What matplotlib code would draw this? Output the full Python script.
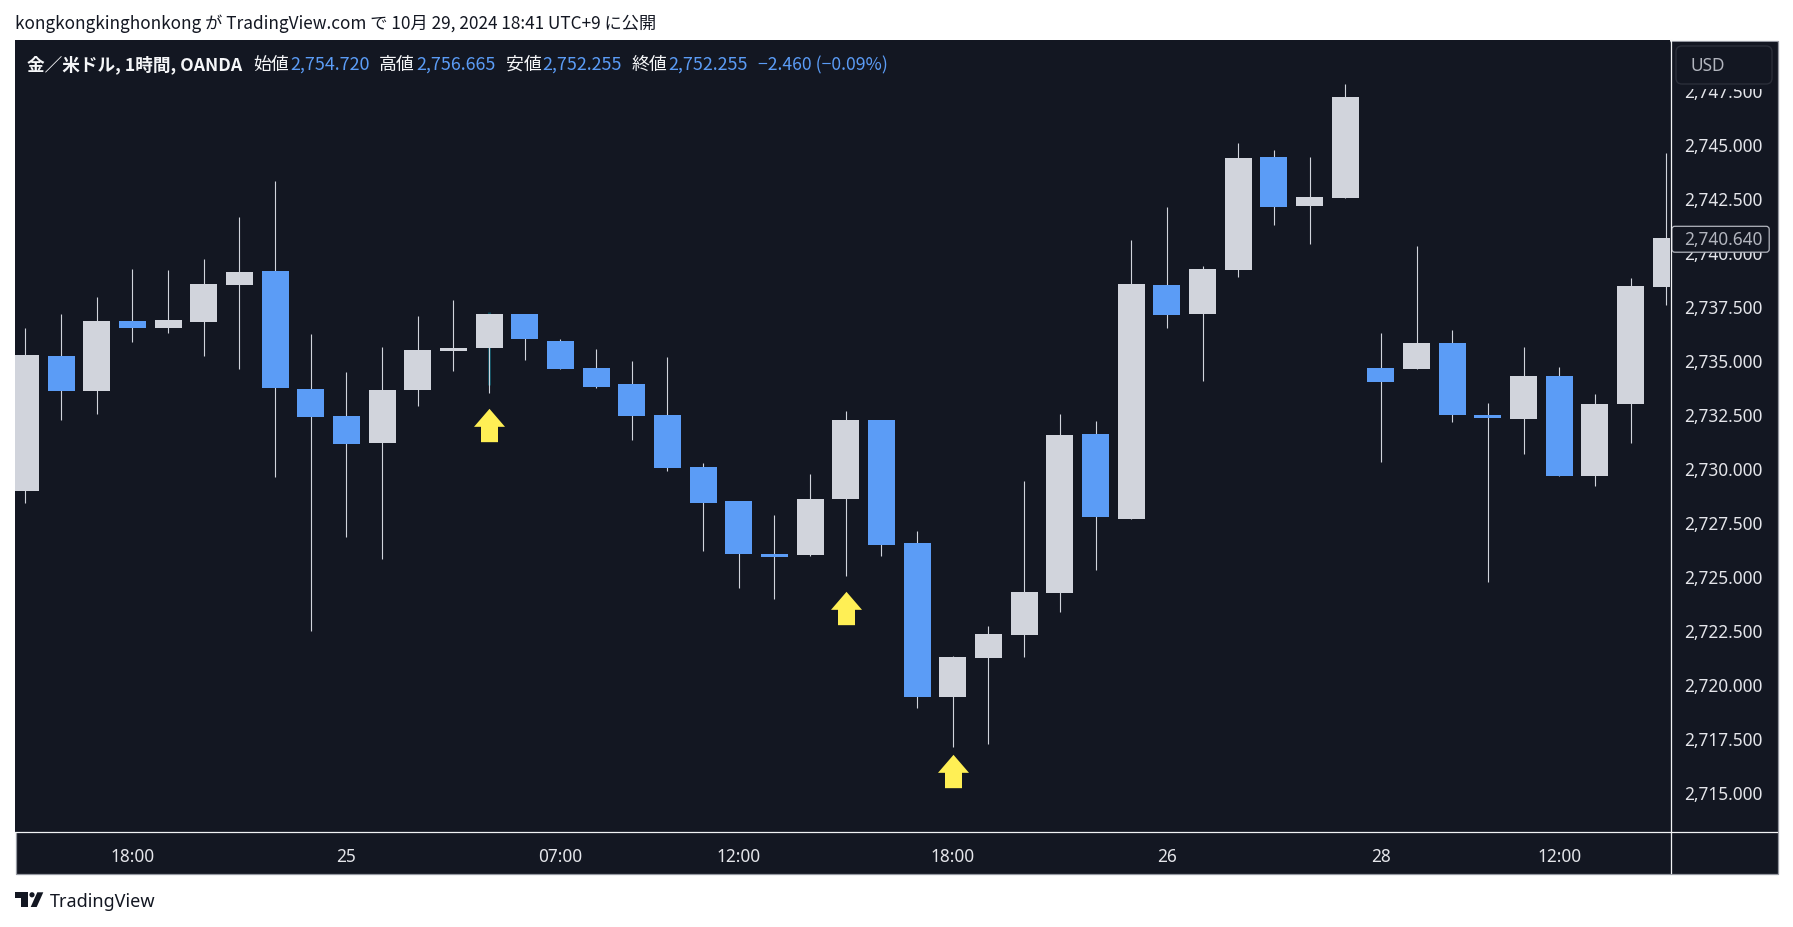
import matplotlib
matplotlib.use("Agg")
import matplotlib.pyplot as plt
from matplotlib.patches import Rectangle, FancyBboxPatch, Polygon, Circle
from matplotlib.path import Path
from matplotlib.ticker import FixedLocator, FixedFormatter

W, H = 1793, 928
BG = "#131722"
GREY = "#D1D4DC"
BLUE = "#5B9CF6"
YELLOW = "#FFEF55"
TEAL = "#0C4A5A"
BORDER = "#9598A1"
LABEL = "#E4E5EA"

opens = [2728.93, 2735.18, 2733.56, 2736.80, 2736.48, 2736.76, 2738.47, 2739.12, 2733.65, 2732.40,
         2731.15, 2733.61, 2735.41, 2735.55, 2737.13, 2735.88, 2734.63, 2733.88, 2732.45, 2730.04,
         2728.47, 2726.01, 2725.96, 2728.56, 2732.22, 2726.52, 2719.39, 2721.19, 2722.26, 2724.20,
         2731.57, 2727.63, 2738.47, 2737.13, 2739.16, 2744.40, 2742.13, 2742.50, 2734.63, 2734.58,
         2735.78, 2732.45, 2732.26, 2734.26, 2729.62, 2732.96, 2738.38]
highs = [2736.48, 2737.13, 2737.91, 2739.21, 2739.17, 2739.67, 2741.62, 2743.29, 2736.20, 2734.44,
         2735.60, 2737.03, 2737.77, 2737.13, 2737.13, 2735.97, 2735.51, 2734.95, 2735.13, 2730.23,
         2728.47, 2727.82, 2729.72, 2732.63, 2732.22, 2727.08, 2721.29, 2722.68, 2729.39, 2732.49,
         2732.17, 2740.55, 2742.08, 2739.35, 2745.05, 2744.72, 2744.40, 2747.78, 2736.25, 2740.28,
         2736.39, 2733.00, 2735.60, 2734.67, 2733.42, 2738.79, 2744.58]
lows = [2728.37, 2732.22, 2732.50, 2735.83, 2736.25, 2735.18, 2734.58, 2729.58, 2722.44, 2726.80,
        2725.78, 2732.87, 2734.49, 2733.47, 2735.00, 2734.58, 2733.70, 2731.29, 2729.85, 2726.15,
        2724.44, 2723.93, 2725.92, 2724.99, 2725.92, 2718.88, 2717.07, 2717.21, 2721.24, 2723.32,
        2725.27, 2727.63, 2736.48, 2734.02, 2738.84, 2741.25, 2740.37, 2742.50, 2730.27, 2734.58,
        2732.12, 2724.71, 2730.64, 2729.62, 2729.16, 2731.15, 2737.54]
closes = [2735.23, 2733.56, 2736.80, 2736.48, 2736.85, 2738.52, 2739.07, 2733.70, 2732.36, 2731.11,
          2733.61, 2735.46, 2735.55, 2737.13, 2735.97, 2734.58, 2733.75, 2732.40, 2729.99, 2728.37,
          2726.01, 2725.87, 2728.56, 2732.22, 2726.43, 2719.39, 2721.24, 2722.31, 2724.25, 2731.52,
          2727.72, 2738.52, 2737.08, 2739.21, 2744.35, 2742.08, 2742.55, 2747.18, 2733.98, 2735.78,
          2732.45, 2732.31, 2734.26, 2729.62, 2732.96, 2738.42, 2740.64]

arrow_idx = [13, 23, 26]
arrow_price = [2731.97, 2723.50, 2715.95]
teal_idx = [13]
teal_top = [2737.22]
teal_bottom = [2733.84]

price_ticks = [2715.0, 2717.5, 2720.0, 2722.5, 2725.0, 2727.5, 2730.0, 2732.5, 2735.0, 2737.5,
               2740.0, 2742.5, 2745.0, 2747.5]
time_idx = [3, 9, 15, 20, 26, 32, 38, 43]
time_labels = ["18:00", "25", "07:00", "12:00", "18:00", "26", "28", "12:00"]

header = "kongkongkinghonkong が TradingView.com で 10月 29, 2024 18:41 UTC+9 に公開"
symbol = "金／米ドル, 1時間, OANDA"
ohlc_names = ["始値", "高値", "安値", "終値"]
ohlc_values = ["2,754.720", "2,756.665", "2,752.255", "2,752.255"]
change = "−2.460 (−0.09%)"
last_price = "2,740.640"
CJK = ["Noto Sans CJK JP", "DejaVu Sans"]

fig = plt.figure(figsize=(W / 100, H / 100), dpi=100, facecolor="white")


def px_axes(x0, y0, x1, y1, **kw):
    return fig.add_axes([x0 / W, 1 - y1 / H, (x1 - x0) / W, (y1 - y0) / H], **kw)


# background panel
bg = fig.add_axes([0, 0, 1, 1], zorder=0)
bg.set_xlim(0, W)
bg.set_ylim(H, 0)
bg.axis("off")
bg.add_patch(Rectangle((15.5, 41.5), 1762, 833, facecolor=BG, edgecolor=BORDER, linewidth=0.9))

# candles
ax = px_axes(15, 41, 1670, 833, zorder=1)
ax.set_facecolor(BG)
for s in ax.spines.values():
    s.set_visible(False)
ax.set_xlim((15 - 25.4) / 35.67, (1670 - 25.4) / 35.67)
ax.set_ylim(2715 + (792.7 - 833) / 21.59, 2715 + (792.7 - 41) / 21.59)

xs = list(range(len(opens)))
ax.vlines(teal_idx, teal_bottom, teal_top, color=TEAL, linewidth=2.16, zorder=2)
ax.vlines(xs, lows, highs, color=GREY, linewidth=0.8, zorder=3)
bottoms = [min(o, c) for o, c in zip(opens, closes)]
heights = [abs(c - o) for o, c in zip(opens, closes)]
colors = [GREY if c >= o else BLUE for o, c in zip(opens, closes)]
ax.bar(xs, heights, width=0.757, bottom=bottoms, color=colors, linewidth=0, zorder=4)

arrow = Path([(0, 1), (0.93, -0.08), (0.51, -0.08), (0.51, -1), (-0.51, -1), (-0.51, -0.08), (-0.93, -0.08), (0, 1)], closed=True)
ax.plot(arrow_idx, arrow_price, linestyle="none", marker=arrow, markersize=24, markerfacecolor=YELLOW,
        markeredgewidth=0, zorder=5)

ax.yaxis.tick_right()
ax.yaxis.set_major_locator(FixedLocator(price_ticks))
ax.yaxis.set_major_formatter(FixedFormatter([f"{p:,.3f}" for p in price_ticks]))
ax.xaxis.set_major_locator(FixedLocator(time_idx))
ax.xaxis.set_major_formatter(FixedFormatter(time_labels))
ax.tick_params(axis="y", length=0, pad=10, labelsize=12.4, labelcolor=LABEL)
ax.tick_params(axis="x", length=0, pad=10.5, labelsize=12.4, labelcolor=LABEL)
for t in ax.get_yticklabels() + ax.get_xticklabels():
    t.set_fontfamily("Noto Sans")
    t.set_fontweight("medium")

# overlay in pixel coordinates
ov = fig.add_axes([0, 0, 1, 1], zorder=5)
ov.set_xlim(0, W)
ov.set_ylim(H, 0)
ov.axis("off")
ov.patch.set_alpha(0)

ov.plot([15, 1777], [833, 833], color="#F2F3F5", linewidth=0.9)
ov.plot([1670.5, 1670.5], [41, 874], color="#F2F3F5", linewidth=0.9)

ov.text(15, 23.5, header, family=CJK, fontsize=12.4, color="#131722", va="center", ha="left")
ov.text(27, 65, symbol, family=CJK, fontsize=12.7, color="#F5F6F8", va="center", ha="left", fontweight="bold")
name_x = [253, 379, 506, 632]
value_x = [290, 416, 542, 668]
for nx, vx, n, v in zip(name_x, value_x, ohlc_names, ohlc_values):
    ov.text(nx, 65, n, family=CJK, fontsize=12.9, color="#F5F6F8", va="center", ha="left")
    ov.text(vx, 65, v, family=CJK, fontsize=12.9, color=BLUE, va="center", ha="left")
ov.text(758, 65, change, family=CJK, fontsize=12.7, color=BLUE, va="center", ha="left")

# mask over the top of the price scale, then the USD button
ov.add_patch(Rectangle((1672, 42.5), 104.5, 47.5, facecolor=BG, edgecolor="none", linewidth=0))
ov.add_patch(FancyBboxPatch((1680, 51), 88, 30, boxstyle="round,pad=4,rounding_size=6", facecolor=BG,
                            edgecolor="#2A2E39", linewidth=1))
ov.text(1690.7, 66, "USD", family="Noto Sans", fontsize=12.4, color="#B2B5BE", va="center", ha="left",
        fontweight="medium")

# last price label
ov.add_patch(FancyBboxPatch((1673.5, 229), 94, 22.5, boxstyle="round,pad=1.7,rounding_size=3", facecolor=BG,
                            edgecolor="#B2B5BE", linewidth=0.9))
ov.text(1684, 240, last_price, family="Noto Sans", fontsize=12.4, color="#B2B5BE", va="center", ha="left",
        fontweight="medium")

# TradingView logo
ov.add_patch(Polygon([(15.3, 893.3), (28, 893.3), (28, 908), (20.7, 908), (20.7, 899), (15.3, 899)], facecolor="#131722", linewidth=0))
ov.add_patch(Circle((32, 895.8), 2.6, facecolor="#131722", linewidth=0))
ov.add_patch(Polygon([(37.3, 893.3), (43.3, 893.3), (36.7, 908), (30.7, 908)], facecolor="#131722", linewidth=0))
ov.text(50, 902, "TradingView", family="Noto Sans", fontsize=13, color="#131722", va="center", ha="left")

fig.savefig("out.png", dpi=100, facecolor="white")
